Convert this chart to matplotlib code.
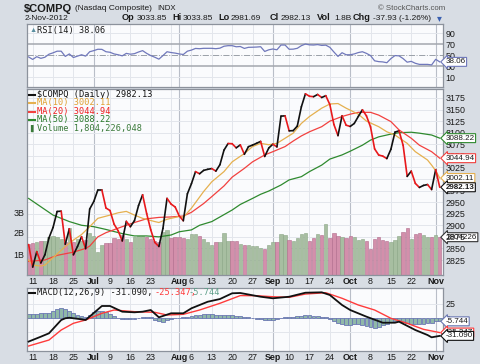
import matplotlib
matplotlib.use("Agg")
import matplotlib.pyplot as plt
import numpy as np
import pandas as pd
from matplotlib.collections import LineCollection
from matplotlib.transforms import blended_transform_factory as blend

# ---------------- data ----------------
holidays = ["2012-07-04", "2012-09-03", "2012-10-29", "2012-10-30"]
dates = pd.bdate_range("2012-06-08", "2012-11-02")
dates = dates[~dates.isin(pd.to_datetime(holidays))]

close = [2858.4, 2809.7, 2843.1, 2818.6, 2836.3, 2872.8, 2895.3, 2929.8, 2930.5, 2859.1, 2892.4, 2836.2, 2854.1, 2875.3, 2849.5, 2935.1,
         2951.2, 2976.1, 2976.1, 2937.3, 2931.8, 2902.3, 2888.0, 2866.2, 2908.5, 2896.9, 2910.0, 2942.6, 2965.9, 2925.3, 2890.2, 2863.0, 2854.2, 2893.3, 2958.1, 2945.8, 2939.5,
         2920.2, 2909.8, 2967.9, 2989.9, 3015.9, 3011.3, 3018.6, 3020.9, 3022.5, 3017.0, 3030.9, 3062.4, 3076.6, 3076.2, 3067.3, 3073.7, 3053.4, 3069.8, 3073.2, 3077.1, 3081.2, 3048.7, 3067.0,
         3075.1, 3069.3, 3135.8, 3136.4, 3104.0, 3104.5, 3114.3, 3155.8, 3184.0, 3178.7, 3177.8, 3182.6, 3176.0, 3180.0, 3160.8, 3117.7, 3093.7, 3136.6, 3116.2,
         3113.5, 3120.0, 3135.2, 3149.5, 3136.2, 3112.4, 3065.0, 3051.8, 3049.4, 3044.1, 3064.2, 3101.2, 3104.1, 3072.9, 3005.6, 3017.0, 2990.5, 2981.7, 2986.1, 2988.0, 2977.2,
         3020.1, 2982.13]

volume_b = [1.46, 1.54, 1.56, 1.62, 1.62, 1.80, 1.86, 1.82, 1.70, 1.55, 2.25, 1.55, 1.72, 1.62, 1.68, 2.02,
            1.85, 1.10, 1.45, 1.52, 1.52, 1.78, 1.70, 1.90, 1.70, 1.58, 1.80, 1.85, 1.85, 1.80, 1.70, 1.62, 1.55, 2.05, 2.13, 1.78, 1.83,
            1.83, 1.78, 1.70, 1.94, 1.94, 1.86, 1.70, 1.57, 1.41, 1.57, 1.57, 2.00, 1.63, 1.60, 1.63, 1.46, 1.43, 1.41, 1.40, 1.38, 1.30, 1.25, 1.45,
            1.57, 1.55, 1.97, 1.90, 1.65, 1.63, 1.78, 1.94, 2.02, 1.60, 1.78, 1.94, 1.90, 2.41, 1.78, 2.02, 1.85, 1.80, 1.78,
            1.85, 1.83, 1.68, 1.72, 1.62, 1.22, 1.72, 1.83, 1.68, 1.60, 1.55, 1.68, 1.85, 2.06, 2.25, 1.72, 1.95, 2.00, 1.90, 1.82, 1.82,
            1.90, 1.80]

ma10_i = [0, 1, 3, 4, 6, 9, 11, 13, 15, 17, 20, 22, 24, 26, 28, 31, 32, 34, 37, 38, 40, 43, 45, 48, 50, 53, 55, 57, 59, 61, 63, 65, 67, 69, 72, 74, 76, 78, 81, 83, 86, 88, 90, 93, 95, 98, 99, 100, 101]
ma10_v = [2825, 2814, 2812, 2814, 2830, 2854, 2868, 2880, 2897, 2915, 2922, 2927, 2930, 2922, 2915, 2908, 2906, 2913, 2919, 2917, 2937, 2973, 2994, 3016, 3037, 3055, 3070, 3077, 3074, 3077, 3088, 3099, 3120, 3135, 3153, 3162, 3163, 3153, 3140, 3125, 3113, 3102, 3095, 3077, 3059, 3041, 3030, 3018, 3002.11]
ma20_i = [0, 4, 7, 11, 14, 15, 16, 17, 19, 23, 26, 29, 32, 35, 38, 40, 43, 45, 48, 50, 53, 55, 58, 60, 63, 65, 67, 69, 72, 74, 77, 79, 81, 84, 86, 89, 91, 94, 96, 99, 101]
ma20_v = [2822, 2825, 2835, 2842, 2850, 2855, 2865, 2875, 2884, 2897, 2906, 2914, 2917, 2918, 2920, 2928, 2947, 2962, 2985, 3004, 3023, 3037, 3052, 3059, 3070, 3082, 3093, 3102, 3113, 3125, 3135, 3140, 3144, 3144, 3138, 3124, 3106, 3088, 3073, 3059, 3044.94]
ma50_i = [0, 3, 6, 10, 13, 16, 19, 23, 26, 29, 32, 35, 37, 40, 42, 45, 47, 50, 52, 55, 57, 59, 62, 64, 67, 69, 72, 74, 77, 79, 82, 84, 86, 89, 91, 94, 96, 99, 101]
ma50_v = [2958, 2940, 2922, 2908, 2900, 2897, 2891, 2882, 2877, 2877, 2875, 2879, 2886, 2890, 2900, 2908, 2918, 2933, 2945, 2958, 2967, 2974, 2987, 2998, 3005, 3016, 3030, 3043, 3052, 3060, 3073, 3084, 3091, 3097, 3100, 3101, 3099, 3095, 3088.22]

rsi = [47, 42.5, 47.5, 44.5, 46.5, 52, 54.5, 57.5, 57.5, 48, 52.5, 46, 48.5, 51, 48.5, 56.5,
       58.5, 61, 60.8, 56.5, 55.5, 52.5, 51, 49, 53.5, 52, 53, 56, 58.5, 53.5, 49.5, 46.5, 43, 49.5, 56.5, 55, 54,
       52.5, 51.5, 57.5, 59.5, 62.5, 62, 62.7, 62.7, 62.7, 62, 63, 66.5, 67.5, 67.5, 65.5, 66, 62.5, 64.5, 64.7, 65, 65.6, 57, 60,
       61.5, 60, 68.7, 68.7, 61, 61.2, 62.7, 67.5, 70.5, 69, 68.7, 69.5, 68, 68.5, 64.5, 56, 48, 54.7, 51,
       51, 52.5, 55, 56.5, 53.5, 49.5, 40, 38.5, 38, 36.5, 44, 49.5, 49, 44, 37.5, 39, 35.5, 33.5, 33.5, 33.5, 32.5,
       42.7, 38.06]

macd_i = [0, 3, 5, 8, 9, 10, 13, 14, 18, 20, 23, 26, 28, 30, 32, 35, 38, 40, 44, 47, 50, 52, 57, 60, 64, 68, 72, 74, 77, 79, 83, 87, 90, 91, 95, 98, 99, 101]
macd_v = [-41, -32.5, -26.6, -3.5, -0.5, 0.5, -2.3, -3.5, 20.9, 20.9, 11, 9.9, 11, 13.9, 1.2, 8.2, 8.2, 16.9, 28.3, 33, 43, 43.5, 37, 34.3, 37, 44, 44.7, 40, 22.6, 13.9, 2.3, -8.2, -8.2, -6.4, -20.9, -29.6, -33.6, -31.09]
sig_i = [0, 5, 8, 11, 14, 18, 21, 26, 31, 34, 38, 42, 47, 52, 56, 60, 64, 68, 73, 77, 81, 85, 89, 93, 97, 101]
sig_v = [-48.7, -38.3, -20.9, -9.2, -3.5, 8.2, 13.9, 11, 9.9, 5.2, 6.4, 13.9, 25.6, 39, 38.8, 37, 36, 41.7, 44, 34.3, 22.6, 13.9, -0.5, -9.2, -19.7, -25.347]
hist = [7, 7, 7, 8, 8, 9, 12, 15, 17, 15, 12, 8, 5, 3, 1, 5,
        10, 12, 12, 10, 7, 4, 0, -2, -2, -2, -1, 0, 1, 2, 2, -3, -6, -7, -4, -2, 0,
        0, 1, 2, 4, 5, 6, 7, 7, 7, 6, 6, 6, 5, 5, 4, 3, 2, 1, 0, -1, -2, -3, -3,
        -3, -2, 0, 1, 1, 2, 3, 4, 5, 5, 4, 3, 2, 1, -2, -6, -9, -11, -12,
        -12, -11, -10, -12, -14, -16, -17, -15, -12, -10, -7, -6, -6, -7, -9, -10, -10, -10, -10, -9, -8,
        -6, -5.744]

rsi_ticks = [10, 30, 50, 70, 90]
price_ticks = list(range(2825, 3176, 25))
vol_ticks = [1, 2, 3]
vol_labels = ["1B", "2B", "3B"]
macd_ticks = [-25, 0, 25]
week_days = ["2012-06-11", "2012-06-18", "2012-06-25", "2012-07-09", "2012-07-16", "2012-07-23",
             "2012-08-06", "2012-08-13", "2012-08-20", "2012-08-27", "2012-09-10", "2012-09-17",
             "2012-09-24", "2012-10-08", "2012-10-15", "2012-10-22"]
month_days = ["2012-07-02", "2012-08-01", "2012-09-04", "2012-10-01", "2012-11-01"]
month_names = ["Jul", "Aug", "Sep", "Oct", "Nov"]
grid_only_days = ["2012-07-30"]

# ---------------- style ----------------
BG = "#d8dde4"
PANEL = "#fafbfd"
GRID = "#e3e6ec"
MGRID = "#b9bec8"
SPINE = "#8c929c"
UP_VOL = "#a7bea1"
DN_VOL = "#d38fab"
TXT = "#1a1a1a"
SANS = ["Liberation Sans", "DejaVu Sans"]
MONO = ["DejaVu Sans Mono", "DejaVu Sans"]
plt.rcParams["font.family"] = SANS

W, H = 480, 364
fig = plt.figure(figsize=(W / 100, H / 100), dpi=100)
fig.patch.set_facecolor(BG)


def rect(x0, y0, x1, y1):
    return [x0 / W, 1 - y1 / H, (x1 - x0) / W, (y1 - y0) / H]


def fx(x):
    return x / W


def fy(y):
    return 1 - y / H


idx = np.arange(len(dates))
pos = {d.strftime("%Y-%m-%d"): i for i, d in enumerate(dates)}
week_x = [pos[d] for d in week_days]
month_x = [pos[d] for d in month_days]
grid_x = sorted(week_x + [pos[d] for d in grid_only_days])
XL = (-0.4, 101.8)
TS = 6.4

ax_rsi = fig.add_axes(rect(27, 24, 443, 87))
ax_vol = fig.add_axes(rect(27, 89, 443, 275))
ax_px = fig.add_axes(rect(27, 89, 443, 275))
ax_macd = fig.add_axes(rect(27, 288, 443, 351))


def base(ax, bg=True, grid=True):
    ax.set_xlim(*XL)
    if bg:
        ax.set_facecolor(PANEL)
    else:
        ax.patch.set_visible(False)
    for s in ax.spines.values():
        s.set_color(SPINE)
        s.set_linewidth(0.9)
    ax.tick_params(length=0, labelsize=TS, colors=TXT, pad=2)
    if grid:
        for xv in grid_x:
            ax.axvline(xv, color=GRID, lw=0.7, zorder=0)
        for xv in month_x:
            ax.axvline(xv, color=MGRID, lw=0.8, zorder=0)


def tag(ax, y, txt, ec, trans, bold=False):
    ax.text(1.006, y, txt, transform=trans, ha="left", va="center", fontsize=5.8,
            fontweight="bold" if bold else "normal", color=TXT, clip_on=False, zorder=20,
            bbox=dict(boxstyle="larrow,pad=0.12", fc="white", ec=ec, lw=0.8))


def date_ticks(ax):
    ax.set_xticks(week_x + month_x)
    ax.set_xticklabels([str(dates[i].day) for i in week_x] + month_names, fontsize=TS)
    for lab, t in zip(ax.get_xticklabels(), week_x + month_x):
        if t in month_x:
            lab.set_fontweight("bold")
    ax.tick_params(axis="x", pad=1.5)


# ---- RSI ----
base(ax_rsi)
ax_rsi.set_ylim(-7.6, 106.9)
for v in [10, 90]:
    ax_rsi.axhline(v, color=GRID, lw=0.7, zorder=0)
for v in [30, 70]:
    ax_rsi.axhline(v, color="#a3a7ae", lw=1.1, zorder=1)
ax_rsi.axhline(50, color="#9aa0a8", lw=0.7, ls="-.", zorder=1)
ax_rsi.plot(idx, rsi, color="#7078bb", lw=0.9, zorder=3)
ax_rsi.yaxis.tick_right()
ax_rsi.set_yticks(rsi_ticks)
ax_rsi.set_yticklabels([str(t) for t in rsi_ticks], fontsize=TS)
ax_rsi.set_xticks([])
tag(ax_rsi, rsi[-1], "38.06", "#6f78bb", blend(ax_rsi.transAxes, ax_rsi.transData))
fig.text(fx(37), fy(30), "RSI(14) 38.06", fontsize=6.2, family=MONO, color=TXT, va="center")
fig.text(fx(29.5), fy(30.5), "\u25b2", fontsize=5.2, color="#5a8fa0", va="center")

# ---- Volume (under price) ----
base(ax_vol)
ax_vol.set_ylim(0, 186 / 21)
tr = blend(ax_vol.transAxes, ax_px.transData)
ax_vol.hlines(price_ticks, 0, 1, transform=tr, color=GRID, lw=0.7, zorder=0)
vcol = [DN_VOL] + [UP_VOL if close[i] >= close[i - 1] else DN_VOL for i in range(1, len(close))]
vedge = ["#b06a8a" if c == DN_VOL else "#8aa585" for c in vcol]
ax_vol.bar(idx, volume_b, width=0.82, color=vcol, edgecolor=vedge, linewidth=0.4, zorder=2)
ax_vol.set_yticks(vol_ticks)
ax_vol.set_yticklabels(vol_labels, fontsize=TS)
ax_vol.yaxis.tick_left()
date_ticks(ax_vol)

# ---- Price ----
base(ax_px, bg=False, grid=False)
ax_px.set_ylim(2792.6, 3194.4)
ax_px.plot(ma50_i, ma50_v, color="#2f8a2f", lw=0.9, zorder=3)
ax_px.plot(ma20_i, ma20_v, color="#f2413f", lw=0.9, zorder=3)
ax_px.plot(ma10_i, ma10_v, color="#e5b04f", lw=0.9, zorder=3)
pts = np.column_stack([idx, close])
segs = np.stack([pts[:-1], pts[1:]], axis=1)
cols = ["#111111" if close[i + 1] >= close[i] else "#e8191c" for i in range(len(close) - 1)]
ax_px.add_collection(LineCollection(segs, colors=cols, linewidths=1.2, zorder=5, capstyle="round", joinstyle="round"))
ax_px.yaxis.tick_right()
ax_px.set_yticks(price_ticks)
ax_px.set_yticklabels([str(t) for t in price_ticks], fontsize=TS)
ax_px.set_xticks([])
for s in ax_px.spines.values():
    s.set_visible(False)

trp = blend(ax_px.transAxes, ax_px.transData)
tag(ax_px, 3088.22, "3088.22", "#2f8a2f", trp)
tag(ax_px, 3044.94, "3044.94", "#f2413f", trp)
tag(ax_px, 3002.11, "3002.11", "#e5b04f", trp)
tag(ax_px, 2982.13, "2982.13", "#111111", trp, bold=True)
tag(ax_vol, volume_b[-1], "1804226", "#333333", blend(ax_vol.transAxes, ax_vol.transData))

leg = [("$COMPQ (Daily) 2982.13", "#111111", "#111111"), ("MA(10) 3002.11", "#e5b04f", "#e0a030"),
       ("MA(20) 3044.94", "#f2413f", "#f02020"), ("MA(50) 3088.22", "#2f8a2f", "#2a7a2a")]
for k, (t, lc, tc) in enumerate(leg):
    yy = 94.5 + 8.5 * k
    fig.add_artist(plt.Line2D([fx(29), fx(35)], [fy(yy), fy(yy)], color=lc, lw=1.5))
    fig.text(fx(37), fy(yy), t, fontsize=6.2, family=MONO, color=tc, va="center")
fig.text(fx(37), fy(128.5), "Volume 1,804,226,048", fontsize=6.2, family=MONO, color="#3a7a3a", va="center")
fig.text(fx(28.5), fy(128.8), "\u2590\u258c", fontsize=4.5, family=MONO, color="#3a7a3a", va="center")

# ---- MACD ----
base(ax_macd)
ax_macd.set_ylim(-57.4, 52.2)
for v in macd_ticks:
    ax_macd.axhline(v, color=GRID, lw=0.7, zorder=0)
ax_macd.bar(idx, hist, width=0.95, color="#8fb8a8", edgecolor="#6b78b3", linewidth=0.6, zorder=2)
ax_macd.plot(sig_i, sig_v, color="#ff3b3b", lw=1.0, zorder=3)
ax_macd.plot(macd_i, macd_v, color="#111111", lw=1.3, zorder=4)
ax_macd.yaxis.tick_right()
ax_macd.set_yticks(macd_ticks)
ax_macd.set_yticklabels([str(t) for t in macd_ticks], fontsize=TS)
date_ticks(ax_macd)
trm = blend(ax_macd.transAxes, ax_macd.transData)
tag(ax_macd, hist[-1], "-5.744", "#6b78b3", trm)
tag(ax_macd, sig_v[-1], "-25.347", "#ff3b3b", trm)
tag(ax_macd, macd_v[-1], "-31.090", "#111111", trm)
fig.add_artist(plt.Line2D([fx(29), fx(35)], [fy(292.5), fy(292.5)], color="#111111", lw=1.5))
fig.text(fx(37), fy(292.5), "MACD(12,26,9) -31.090,", fontsize=6.2, family=MONO, color=TXT, va="center")
fig.text(fx(155), fy(292.5), "-25.347,", fontsize=6.2, family=MONO, color="#ff3b3b", va="center")
fig.text(fx(188), fy(292.5), "-5.744", fontsize=6.2, family=MONO, color="#5f9f8a", va="center")

# ---- header ----
fig.text(fx(24), fy(8.5), "$COMPQ", fontsize=8.0, fontweight="bold", family=SANS, color=TXT, va="center")
fig.text(fx(75), fy(9), "(Nasdaq Composite)", fontsize=6.0, family=SANS, color=TXT, va="center")
fig.text(fx(157), fy(9), "INDX", fontsize=5.6, family=SANS, color=TXT, va="center")
fig.text(fx(25), fy(18), "2-Nov-2012", fontsize=6.0, family=SANS, color=TXT, va="center")
hdr = [(122, "Op", True), (137, "3033.85", False), (172, "Hi", True), (183, "3033.85", False),
       (218, "Lo", True), (231, "2981.69", False), (270, "Cl", True), (281, "2982.13", False),
       (317, "Vol", True), (334, "1.8B", False), (353, "Chg", True), (373, "-37.93 (-1.26%)", False)]
for x, t, b in hdr:
    fig.text(fx(x), fy(18), t, fontsize=6.6 if b else 6.0, fontweight="bold" if b else "normal",
             family=SANS, color=TXT, va="center")
fig.text(fx(437), fy(18.5), "\u25be", fontsize=7, family=["DejaVu Sans"], color="#3a5fb0", va="center")
fig.text(fx(445), fy(8), "\u00a9 StockCharts.com", fontsize=5.6, family=SANS, color="#555555", va="center", ha="right")

fig.savefig("out.png", dpi=100, facecolor=BG)
